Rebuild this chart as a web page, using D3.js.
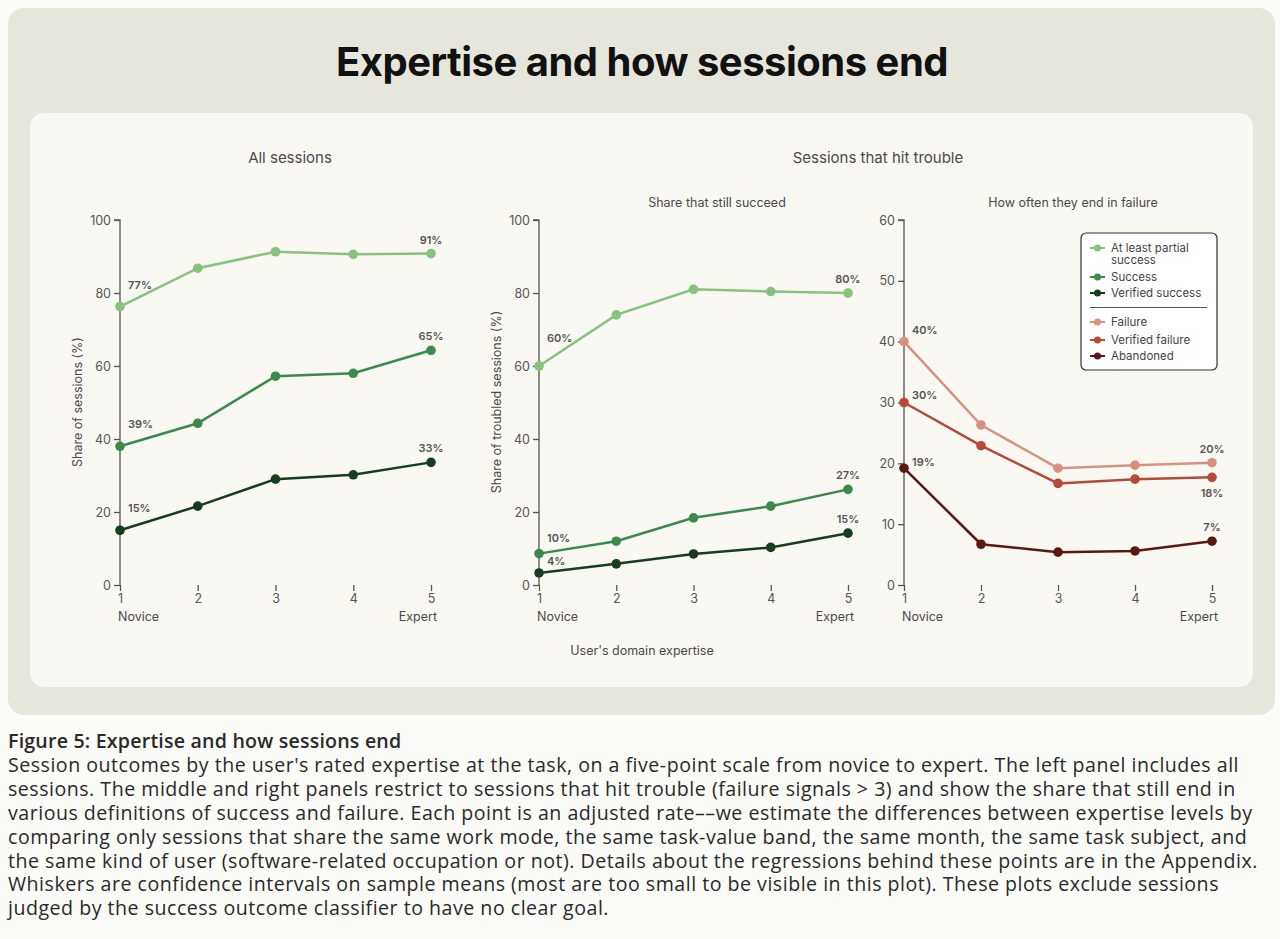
<!DOCTYPE html>
<html><head><meta charset="utf-8">
<script src="https://cdn.jsdelivr.net/npm/d3@7"></script>
<style>
body{margin:0;background:#fbfbf8;font-family:Inter,"Noto Sans",sans-serif;}
#cap{position:absolute;left:8px;top:729px;width:1268px;font-size:19.6px;line-height:23.9px;letter-spacing:0.5px;white-space:nowrap;color:#2a2a2a;font-family:"Open Sans",Inter,sans-serif;}
#cap div.h{font-weight:600;letter-spacing:0.2px;}
</style></head>
<body>
<svg id="chart" width="1280" height="720" style="position:absolute;left:0;top:0"></svg>
<div id="cap"><div class="h">Figure 5: Expertise and how sessions end</div>Session outcomes by the user's rated expertise at the task, on a five-point scale from novice to expert. The left panel includes all<br>sessions. The middle and right panels restrict to sessions that hit trouble (failure signals &gt; 3) and show the share that still end in<br>various definitions of success and failure. Each point is an adjusted rate––we estimate the differences between expertise levels by<br>comparing only sessions that share the same work mode, the same task-value band, the same month, the same task subject, and<br>the same kind of user (software-related occupation or not). Details about the regressions behind these points are in the Appendix.<br>Whiskers are confidence intervals on sample means (most are too small to be visible in this plot). These plots exclude sessions<br>judged by the success outcome classifier to have no clear goal.</div>
<script>
var levels = [1, 2, 3, 4, 5]
var allPartial = [76.3, 86.8, 91.3, 90.6, 90.8]
var allSuccess = [38, 44.3, 57.2, 58, 64.3]
var allVerified = [15, 21.6, 29, 30.2, 33.6]
var trPartial = [60, 74, 81, 80.4, 80]
var trSuccess = [8.6, 12, 18.4, 21.6, 26.2]
var trVerified = [3.3, 5.8, 8.5, 10.3, 14.2]
var failFailure = [40, 26.3, 19.2, 19.7, 20.1]
var failVerified = [30, 22.9, 16.7, 17.4, 17.7]
var failAbandoned = [19.2, 6.7, 5.4, 5.6, 7.2]
// end labels as printed [first, last]
var allLabels = [["77%","91%"],["39%","65%"],["15%","33%"]]
var trLabels = [["60%","80%"],["10%","27%"],["4%","15%"]]
var failLabels = [["40%","20%"],["30%","18%"],["19%","7%"]]

var col = {partial:"#86c47e", success:"#3b8a4c", verified:"#163d21",
  failure:"#d9917f", vfail:"#b84838", abandoned:"#5b1812"}

var svg = d3.select("#chart")
svg.append("rect").attr("x",8).attr("y",8).attr("width",1267).attr("height",707).attr("rx",16).attr("fill","#e7e6dc")
svg.append("rect").attr("x",30).attr("y",113).attr("width",1223).attr("height",574).attr("rx",14).attr("fill","#f9f8f3")
svg.append("text").attr("x",642).attr("y",76).attr("text-anchor","middle").attr("font-size",40).attr("font-weight",700)
  .attr("fill","#111").attr("letter-spacing","-0.5").text("Expertise and how sessions end")

function txt(x,y,s,size,anchor){
  return svg.append("text").attr("x",x).attr("y",y).attr("font-size",size).attr("text-anchor",anchor||"middle").attr("fill","#4a4a4a").text(s)
}
txt(290,163,"All sessions",15)
txt(878,163,"Sessions that hit trouble",15)
txt(717,207,"Share that still succeed",12.5)
txt(1073,207,"How often they end in failure",12.5)
txt(642,655,"User's domain expertise",12.5)

function panel(x0, x1, ymax, ticks, ylabel, series, labels){
  var x = d3.scaleLinear().domain([1,5]).range([x0,x1])
  var y = d3.scaleLinear().domain([0,ymax]).range([585,220])
  var g = svg.append("g")
  var ya = g.append("g").attr("transform","translate("+x0+",0)").call(d3.axisLeft(y).tickValues(ticks).tickFormat(d3.format("d")).tickSize(6).tickPadding(3))
  var xa = g.append("g").attr("transform","translate(0,585)").call(d3.axisBottom(x).tickValues(levels).tickFormat(d3.format("d")).tickSize(6).tickPadding(3))
  g.selectAll(".domain, .tick line").attr("stroke","#555").attr("stroke-width",1.3)
  g.selectAll(".tick text").attr("font-size",12.5).attr("fill","#555").attr("font-family","Inter,sans-serif")
  ya.select(".domain").attr("d","M-6,"+y(ymax)+"H0V585")
  xa.select(".domain").attr("d","M"+x0+",591V585H"+x1+"V591")
  txt(x0-2,621,"Novice",12.5,"start")
  txt(x1+6,621,"Expert",12.5,"end")
  if (ylabel) svg.append("text").attr("transform","translate("+(x0-38)+",402) rotate(-90)").attr("text-anchor","middle")
    .attr("font-size",12.5).attr("fill","#4a4a4a").text(ylabel)
  var line = d3.line().x(function(d,i){return x(levels[i])}).y(function(d){return y(d)})
  series.forEach(function(s,k){
    g.append("path").attr("d",line(s.v)).attr("fill","none").attr("stroke",s.c).attr("stroke-width",2.5)
    g.selectAll(null).data(s.v).enter().append("circle").attr("cx",function(d,i){return x(levels[i])})
      .attr("cy",function(d){return y(d)}).attr("r",4.8).attr("fill",s.c)
    var lab = function(i,t,dx,dy,anchor){
      g.append("text").attr("x",x(levels[i])+dx).attr("y",y(s.v[i])+dy).attr("text-anchor",anchor)
        .attr("font-size",11).attr("font-weight",600).attr("fill","#555").text(t)
    }
    lab(0,labels[k][0],8,s.firstDy||-18,"start")
    lab(4,labels[k][1],0,s.lastDy||-10,"middle")
  })
}
panel(120,431,100,[0,20,40,60,80,100],"Share of sessions (%)",
  [{v:allPartial,c:col.partial,firstDy:-18},{v:allSuccess,c:col.success},{v:allVerified,c:col.verified}], allLabels)
panel(539,848,100,[0,20,40,60,80,100],"Share of troubled sessions (%)",
  [{v:trPartial,c:col.partial,firstDy:-24},{v:trSuccess,c:col.success,firstDy:-12},{v:trVerified,c:col.verified,firstDy:-8}], trLabels)
panel(904,1212,60,[0,10,20,30,40,50,60],null,
  [{v:failFailure,c:col.failure,firstDy:-8},{v:failVerified,c:col.vfail,firstDy:-4},{v:failAbandoned,c:col.abandoned,firstDy:-2}], failLabels)
svg.selectAll("text").filter(function(){return this.textContent=="18%"}).attr("y",497)

// legend
var legItems = [["At least partial","success",col.partial],["Success",null,col.success],["Verified success",null,col.verified],
  ["Failure",null,col.failure],["Verified failure",null,col.vfail],["Abandoned",null,col.abandoned]]
var legY = [248,277,293,322,340,356]
var lg = svg.append("g")
lg.append("rect").attr("x",1081).attr("y",233).attr("width",136).attr("height",137).attr("rx",5).attr("fill","#fff").attr("stroke","#333").attr("stroke-width",1.2)
lg.append("line").attr("x1",1090).attr("x2",1207).attr("y1",307.5).attr("y2",307.5).attr("stroke","#555")
legItems.forEach(function(d,i){
  var yy = legY[i]
  lg.append("line").attr("x1",1090).attr("x2",1105).attr("y1",yy).attr("y2",yy).attr("stroke",d[2]).attr("stroke-width",2)
  lg.append("circle").attr("cx",1097.5).attr("cy",yy).attr("r",3.5).attr("fill",d[2])
  lg.append("text").attr("x",1111).attr("y",yy+4).attr("font-size",11.5).attr("fill","#444").text(d[0])
  if (d[1]) lg.append("text").attr("x",1111).attr("y",yy+16).attr("font-size",11.5).attr("fill","#444").text(d[1])
})
</script>
</body></html>
